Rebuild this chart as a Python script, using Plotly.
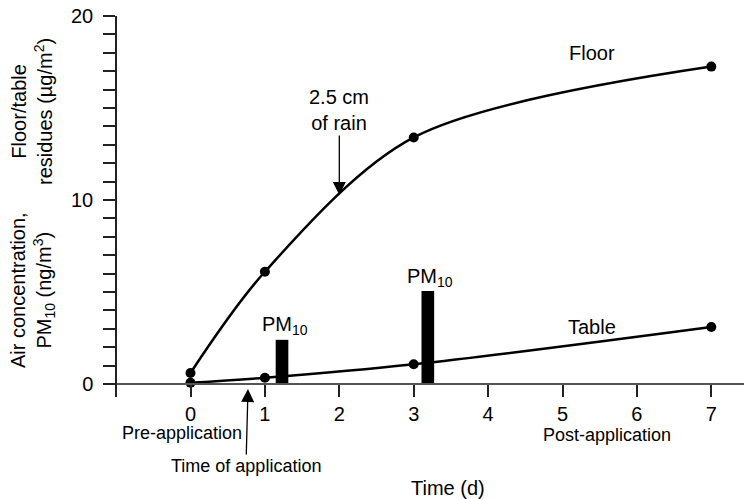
import plotly.graph_objects as go

# ---- data ----
time_pts = [0, 1, 3, 7]
floor_res = [0.6, 6.1, 13.4, 17.25]
table_res = [0.07, 0.34, 1.07, 3.1]
pm_time = [1.23, 3.19]
pm_conc = [2.4, 5.05]
x_ticks = [0, 1, 2, 3, 4, 5, 6, 7]
y_ticks = [0, 10, 20]

FONT = "Liberation Sans, Arial, Helvetica, sans-serif"
FS = 20
FS_SMALL = 18
W, H = 744, 499

fig = go.Figure()
fig.add_trace(go.Bar(x=pm_time, y=pm_conc, width=0.17, marker=dict(color="black", line=dict(width=0)),
                     showlegend=False))
fig.add_trace(go.Scatter(x=time_pts, y=floor_res, mode="lines+markers",
                         line=dict(color="black", width=2.5, shape="spline", smoothing=0.9),
                         marker=dict(color="black", size=10), showlegend=False, cliponaxis=False))
fig.add_trace(go.Scatter(x=time_pts, y=table_res, mode="lines+markers",
                         line=dict(color="black", width=2.5, shape="spline", smoothing=1.0),
                         marker=dict(color="black", size=10), showlegend=False, cliponaxis=False))

def dx(px):
    return (px - 190.5) / 74.4

def dy(py):
    return (384 - py) / 18.4

ann = []
def txt(text, x, y, size=FS, **kw):
    d = dict(text=text, x=x, y=y, xref="x", yref="y", showarrow=False,
             xanchor="center", yanchor="middle",
             font=dict(family=FONT, size=size, color="black"))
    d.update(kw)
    ann.append(d)

def ptxt(text, px, py, size=FS, **kw):
    d = dict(text=text, x=px / W, y=1 - py / H, xref="paper", yref="paper", showarrow=False,
             xanchor="center", yanchor="middle",
             font=dict(family=FONT, size=size, color="black"))
    d.update(kw)
    ann.append(d)

txt("Floor", dx(592), dy(53))
txt("Table", dx(592), dy(327))
txt("PM<sub>10</sub>", dx(285), dy(325))
txt("PM<sub>10</sub>", dx(430), dy(277))
ptxt("Pre-application", 182, 433, size=FS_SMALL)
ptxt("Post-application", 607, 435, size=FS_SMALL)
ptxt("Time (d)", 448, 488)
# arrows
txt("2.5 cm<br>of rain", 2.0, dy(195), showarrow=True, ax=0, ay=-85,
    arrowhead=2, arrowsize=2.0, arrowwidth=1.3, arrowcolor="black")
txt("Time of application", dx(248), dy(389), size=FS_SMALL, showarrow=True, ax=-2, ay=77,
    arrowhead=2, arrowsize=2.0, arrowwidth=1.3, arrowcolor="black")
# y-axis titles
ptxt("Floor/table<br>residues (µg/m<sup>2</sup>)", 32, 112, textangle=-90)
ptxt("Air concentration,<br>PM<sub>10</sub> (ng/m<sup>3</sup>)", 32, 290, textangle=-90)

fig.update_layout(
    width=W, height=H,
    margin=dict(l=0, r=0, t=0, b=0, autoexpand=False),
    paper_bgcolor="white", plot_bgcolor="white",
    font=dict(family=FONT, size=FS, color="black"),
    annotations=ann,
    xaxis=dict(domain=[104 / W, 1], range=[dx(104), dx(744)], anchor="free", position=1 - 384 / H,
               automargin=False,
               tickvals=x_ticks, ticktext=[str(v) for v in x_ticks], ticks="outside", ticklen=12,
               tickwidth=1.5, tickcolor="#222", showline=True, linecolor="#555", linewidth=2,
               showgrid=False, zeroline=False, tickfont=dict(family=FONT, size=FS, color="black")),
    yaxis=dict(domain=[1 - 397 / H, 1 - 16 / H], range=[dy(397), 20], anchor="free", position=116 / W,
               automargin=False,
               tickvals=y_ticks, ticktext=[str(v) for v in y_ticks], ticks="outside", ticklen=12,
               tickwidth=1.5, tickcolor="#222", showline=True, linecolor="#222", linewidth=1.5,
               ticklabelstandoff=6,
               minor=dict(dtick=1, tick0=0, ticks="outside", ticklen=12, tickwidth=1.5, tickcolor="#222",
                          showgrid=False),
               showgrid=False, zeroline=False, tickfont=dict(family=FONT, size=FS, color="black")),
)

fig.write_html("out.html")
